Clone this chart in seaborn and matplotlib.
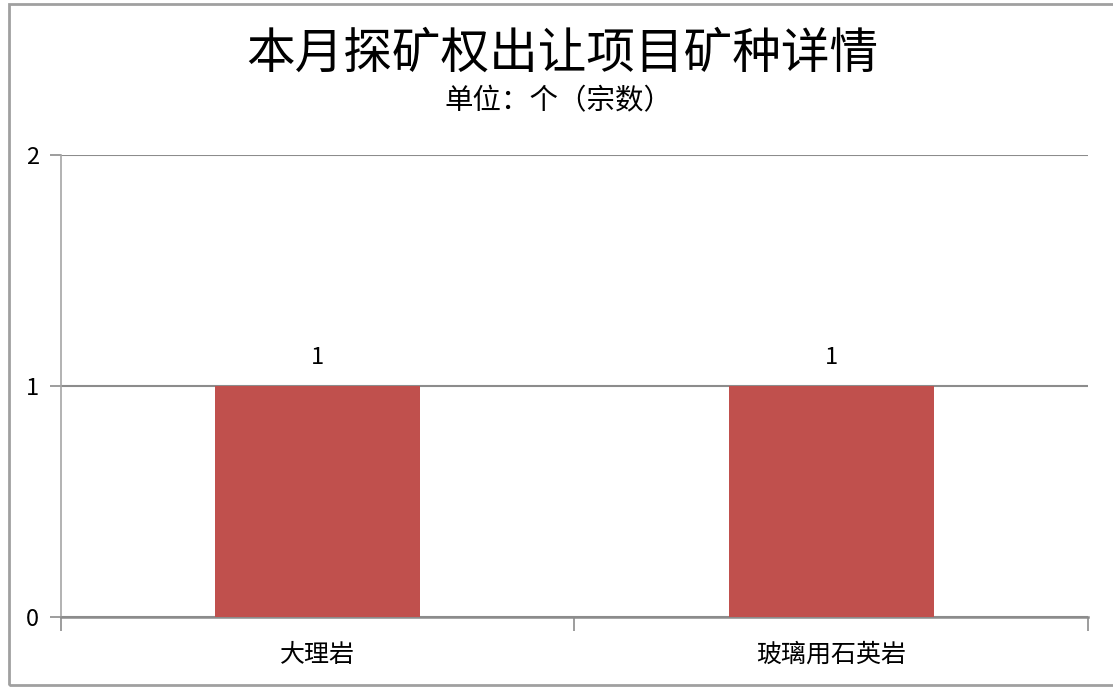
import pandas as pd
import seaborn as sns
import matplotlib.pyplot as plt
from matplotlib.patches import Rectangle

sns.set_style("white")
plt.rcParams['font.family'] = ['Noto Sans CJK SC', 'DejaVu Sans']
plt.rcParams['text.color'] = 'black'
plt.rcParams['xtick.color'] = 'black'
plt.rcParams['ytick.color'] = 'black'

minerals = ["大理岩", "玻璃用石英岩"]
counts = [1, 1]
title = "本月探矿权出让项目矿种详情"
subtitle = "单位：个（宗数）"

df = pd.DataFrame({"mineral": minerals, "count": counts})

fig = plt.figure(figsize=(11.13, 6.87), dpi=100)
ax = fig.add_axes([0.0548, 0.1019, 0.9227, 0.6725])

sns.barplot(data=df, x="mineral", y="count", color="#C0504D", saturation=1,
            width=0.4, linewidth=0, ax=ax, zorder=3)

ax.set_ylim(0, 2)
ax.set_xlim(-0.5, len(minerals) - 0.5)
ax.set_yticks([0, 1, 2])
ax.yaxis.grid(True, color="#8C8C8C", lw=1.5, zorder=0)
ax.set_xlabel("")
ax.set_ylabel("")

for s in ["top", "right"]:
    ax.spines[s].set_visible(False)
ax.spines["left"].set_color("#A6A6A6")
ax.spines["left"].set_linewidth(1.2)
ax.spines["bottom"].set_color("#8C8C8C")
ax.spines["bottom"].set_linewidth(1.8)

# category boundary ticks on the x axis
ax.set_xticks([-0.5, 0.5, 1.5], minor=False)
ax.set_xticklabels([])
ax.set_xticks(range(len(minerals)), minor=True)
ax.set_xticklabels(minerals, minor=True, fontsize=18)
ax.tick_params(axis="x", which="major", bottom=True, length=10, width=1.2,
               color="#8C8C8C", direction="out")
ax.tick_params(axis="x", which="minor", bottom=True, length=0, pad=18)
ax.tick_params(axis="y", left=True, length=8, width=1.2, color="#8C8C8C",
               direction="out", labelsize=17, pad=8)

for c in ax.containers:
    ax.bar_label(c, labels=[str(v) for v in counts], padding=12, fontsize=17)

fig.text(0.505, 0.922, title, ha="center", va="center", fontsize=35)
fig.text(0.502, 0.853, subtitle, ha="center", va="center", fontsize=20.5)

fig.patches.append(Rectangle((0.008, 0.003), 1.1, 0.991, transform=fig.transFigure,
                             fill=False, edgecolor="#A0A0A0", lw=2))

fig.savefig("out.png", dpi=100)
